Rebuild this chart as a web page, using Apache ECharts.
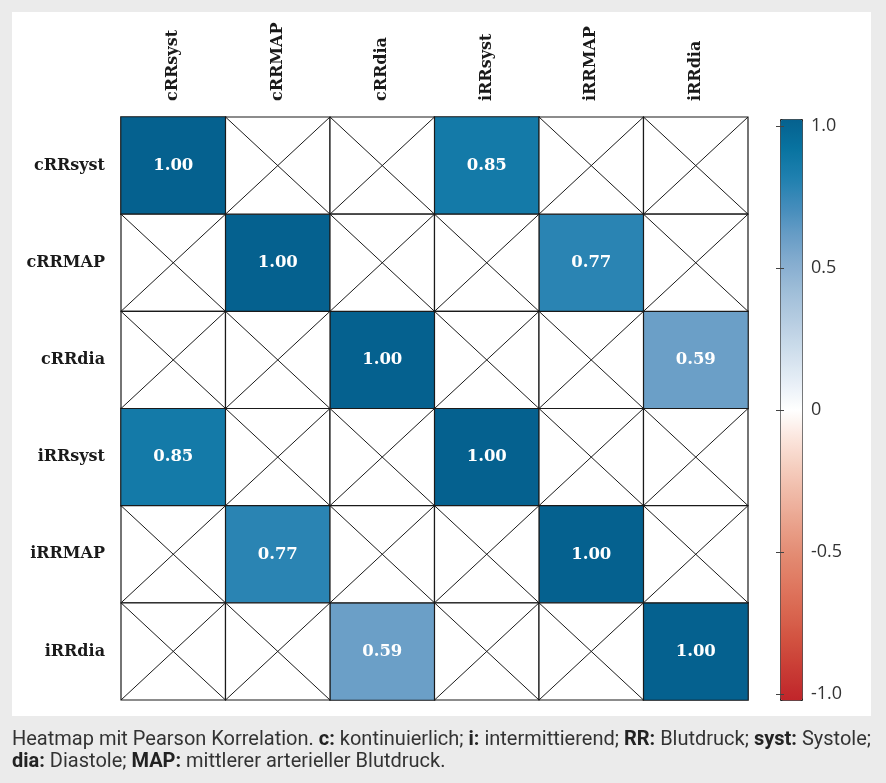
<!DOCTYPE html>
<html><head><meta charset="utf-8">
<script src="https://cdn.jsdelivr.net/npm/echarts@6/dist/echarts.min.js"></script>
<style>html,body{margin:0;padding:0;background:#ebebeb;} #c{width:886px;height:783px;}</style>
</head><body><div id="c"></div>
<script>
// ---- data ----
const variables = ['cRRsyst', 'cRRMAP', 'cRRdia', 'iRRsyst', 'iRRMAP', 'iRRdia'];
const row_cRRsyst = [1.00, null, null, 0.85, null, null];
const row_cRRMAP  = [null, 1.00, null, null, 0.77, null];
const row_cRRdia  = [null, null, 1.00, null, null, 0.59];
const row_iRRsyst = [0.85, null, null, 1.00, null, null];
const row_iRRMAP  = [null, 0.77, null, null, 1.00, null];
const row_iRRdia  = [null, null, 0.59, null, null, 1.00];
const colorbarTicks = [-1.0, -0.5, 0, 0.5, 1.0];
const colorbarLabels = ['-1.0', '-0.5', '0', '0.5', '1.0'];
const captionLine1 = 'Heatmap mit Pearson Korrelation. {b|c:} kontinuierlich; {b|i:} intermittierend; {b|RR:} Blutdruck; {b|syst:} Systole;';
const captionLine2 = '{b|dia:} Diastole; {b|MAP:} mittlerer arterieller Blutdruck.';

// ---- build ----
const matrix = [row_cRRsyst, row_cRRMAP, row_cRRdia, row_iRRsyst, row_iRRMAP, row_iRRdia];
const heatData = [], crossData = [];
matrix.forEach((row, r) => row.forEach((v, c) => {
  if (v === null) crossData.push([c, r]); else heatData.push([c, r, v]);
}));

const scaleColors = ['#c0252a','#c83a34','#d1503f','#d9654f','#df7860','#e38b72','#e9a08a','#efb7a4','#f5cdbe','#fbe5dc','#ffffff',
  '#e6eef6','#cfdeec','#b8cee2','#a1bfd9','#87aed0','#689dc6','#438cbb','#1f80af','#0873a0','#05618f'];

const chart = echarts.init(document.getElementById('c'), null, {renderer: 'canvas'});
const labelFont = {fontFamily: 'DejaVu Serif', fontWeight: 'bold', fontSize: 16, color: '#1a1a1a'};

chart.setOption({
  backgroundColor: '#ebebeb',
  animation: false,
  graphic: [
    {type: 'rect', z: -100, shape: {x: 12, y: 12, width: 859, height: 704}, style: {fill: '#ffffff'}},
    {type: 'text', left: 12, top: 729, z: 10,
      style: {text: captionLine1 + '\n' + captionLine2, fontFamily: 'Roboto', fontSize: 20, lineHeight: 22, fill: '#333',
        rich: {b: {fontWeight: 'bold', fontFamily: 'Roboto', fontSize: 20, lineHeight: 22, fill: '#222'}}}}
  ],
  grid: [
    {left: 121, top: 117, width: 627, height: 583},
    {left: 780, top: 126, width: 22, height: 568}
  ],
  xAxis: [
    {type: 'category', gridIndex: 0, data: variables, position: 'top',
      axisLine: {show: false}, axisTick: {show: false}, splitLine: {show: false},
      axisLabel: Object.assign({rotate: -90, margin: 16}, labelFont)},
    {type: 'value', gridIndex: 1, show: false, min: 0, max: 1}
  ],
  yAxis: [
    {type: 'category', gridIndex: 0, data: variables, inverse: true,
      axisLine: {show: false}, axisTick: {show: false}, splitLine: {show: false},
      axisLabel: Object.assign({margin: 16}, labelFont)},
    {type: 'value', gridIndex: 1, position: 'right', min: -1, max: 1, interval: 0.5, z: 10,
      axisLine: {show: false}, splitLine: {show: false},
      axisTick: {show: true, inside: true, length: 4, lineStyle: {color: '#444'}},
      axisLabel: {margin: 9, fontFamily: 'Open Sans', fontSize: 18, color: '#333',
        formatter: v => { const i = colorbarTicks.findIndex(t => Math.abs(t - v) < 1e-9); return i >= 0 ? colorbarLabels[i] : ''; }}},
    {type: 'value', gridIndex: 1, position: 'left', min: -1, max: 1, interval: 0.5, z: 10,
      axisLine: {show: false}, splitLine: {show: false}, axisLabel: {show: false},
      axisTick: {show: true, inside: true, length: 4, lineStyle: {color: '#444'}}}
  ],
  visualMap: {
    type: 'continuous', min: -1, max: 1, seriesIndex: 0, dimension: 2,
    left: 780, top: 119, itemWidth: 22, itemHeight: 581, padding: 0,
    calculable: false, hoverLink: false, text: null, showLabel: false,
    borderColor: '#222', borderWidth: 1,
    inRange: {color: scaleColors}
  },
  series: [
    {type: 'heatmap', xAxisIndex: 0, yAxisIndex: 0, data: heatData,
      itemStyle: {borderColor: '#1a1a1a', borderWidth: 1.2},
      label: {show: true, color: '#fff', fontFamily: 'DejaVu Serif', fontWeight: 'bold', fontSize: 16.5,
        formatter: p => p.value[2].toFixed(2)},
      emphasis: {disabled: true}},
    {type: 'custom', xAxisIndex: 0, yAxisIndex: 0, data: crossData, silent: true,
      encode: {x: 0, y: 1},
      renderItem: (params, api) => {
        const p = api.coord([api.value(0), api.value(1)]);
        const s = api.size([1, 1]);
        const x0 = p[0] - s[0] / 2, y0 = p[1] - s[1] / 2;
        const st = {stroke: '#1a1a1a', lineWidth: 1};
        return {type: 'group', children: [
          {type: 'rect', shape: {x: x0, y: y0, width: s[0], height: s[1]}, style: {fill: '#fff', stroke: '#1a1a1a', lineWidth: 1.2}},
          {type: 'line', shape: {x1: x0, y1: y0, x2: x0 + s[0], y2: y0 + s[1]}, style: st},
          {type: 'line', shape: {x1: x0 + s[0], y1: y0, x2: x0, y2: y0 + s[1]}, style: st}
        ]};
      }}
  ]
});
</script></body></html>
